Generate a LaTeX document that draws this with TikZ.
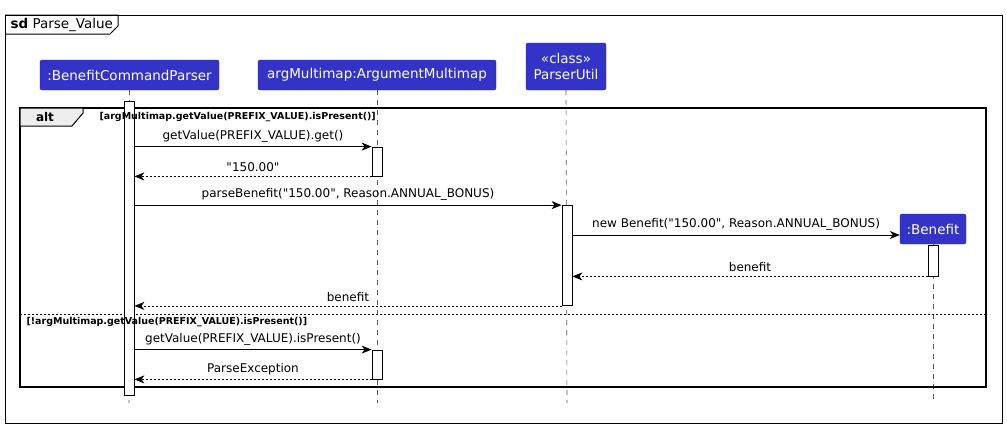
\documentclass[tikz,border=0pt]{standalone}
\usepackage{fontspec}
\setmainfont{DejaVu Sans}
\newfontfamily\uifont{DejaVu Sans}
\usetikzlibrary{arrows.meta}
\definecolor{partblue}{RGB}{51,51,200}
\definecolor{tabgray}{RGB}{238,238,238}
\begin{document}
\begin{tikzpicture}[x=1pt,y=-1pt,
   every node/.style={font=\uifont},
   part/.style={draw=partblue!80!black, fill=partblue, text=white, rounded corners=2pt, inner sep=0pt, font=\uifont\fontsize{13.5}{16}\selectfont, align=center},
   act/.style={draw, fill=white, line width=0.8pt, minimum width=10pt, inner sep=0pt},
   lifeline/.style={dash pattern=on 5pt off 5pt, line width=0.6pt, gray!70!black},
   msg/.style={-{Stealth[length=10pt,width=8pt,inset=3pt]}, line width=0.8pt},
   ret/.style={msg, dash pattern=on 2pt off 2pt},
   lbl/.style={above=1pt, midway, font=\uifont\fontsize{12}{14}\selectfont, text=black},
   guard/.style={font=\uifont\bfseries\fontsize{9.5}{11}\selectfont, anchor=west}]
   \useasboundingbox (0,0) rectangle (1007,426);
   \draw[line width=1pt] (5,15) rectangle (1002,423);
   \draw[line width=1pt] (5,15) -- (118,15) -- (118,26) -- (110,34) -- (5,34);
   \node[anchor=west, font=\uifont\fontsize{13.5}{16}\selectfont] (title) at (7,25) {\textbf{sd} Parse\_Value};
   \node[part, minimum width=179pt, minimum height=30pt] (bcp) at (129.5,75) {:BenefitCommandParser};
   \node[part, minimum width=238pt, minimum height=30pt] (amm) at (377,75) {argMultimap:ArgumentMultimap};
   \node[part, minimum width=80pt, minimum height=47pt] (pu) at (566,66.5) {«class»\\ParserUtil};
   \node[part, minimum width=66pt, minimum height=30pt] (ben) at (933,229) {:Benefit};
   \coordinate (bcpend) at (129,403);
   \coordinate (ammend) at (377,403);
   \coordinate (puend) at (567,403);
   \coordinate (benend) at (933,403);
   \draw[lifeline] (bcp.south) -- (bcpend);
   \draw[lifeline] (amm.south) -- (ammend);
   \draw[lifeline] (pu.south) -- (puend);
   \draw[lifeline] (ben.south) -- (benend);
   \draw[line width=1.6pt] (20,108) rectangle (986,387);
   \draw[line width=1pt, fill=tabgray] (20,108) -- (83,108) -- (83,113) -- (72,126) -- (20,126) -- cycle;
   \node[font=\uifont\bfseries\fontsize{12}{14}\selectfont] (alt) at (45,117) {alt};
   \draw[line width=0.8pt, dash pattern=on 2pt off 2pt] (20,314) -- (986,314);
   \node[act, minimum height=294pt] (a0) at (129,248) {};
   \node[act, minimum height=29pt] (a1) at (377,161.5) {};
   \node[act, minimum height=100pt] (a2) at (567,255.5) {};
   \node[act, minimum height=31pt] (a3) at (933,260.5) {};
   \node[act, minimum height=29pt] (a4) at (377,364.5) {};
   \node[guard] (g1) at (96,117) {[argMultimap.getValue(PREFIX\_VALUE).isPresent()]};
   \node[guard] (g2) at (23,322) {[!argMultimap.getValue(PREFIX\_VALUE).isPresent()]};
   \draw[msg] (a0.east |- a1.north) -- (a1.north west) node[lbl] {getValue(PREFIX\_VALUE).get()};
   \draw[ret] (a1.south west) -- (a0.east |- a1.south) node[lbl] {"150.00"};
   \draw[msg] (a0.east |- a2.north) -- (a2.north west) node[lbl] {parseBenefit("150.00", Reason.ANNUAL\_BONUS)};
   \draw[msg] ([yshift=-6pt]a2.east |- ben.west) -- ([yshift=-6pt]ben.west) node[lbl] {new Benefit("150.00", Reason.ANNUAL\_BONUS)};
   \draw[ret] (a3.south west) -- (a2.east |- a3.south) node[lbl] {benefit};
   \draw[ret] (a2.south west) -- (a0.east |- a2.south) node[lbl] {benefit};
   \draw[msg] (a0.east |- a4.north) -- (a4.north west) node[lbl] {getValue(PREFIX\_VALUE).isPresent()};
   \draw[ret] (a4.south west) -- (a0.east |- a4.south) node[lbl] {ParseException};
\end{tikzpicture}
\end{document}
